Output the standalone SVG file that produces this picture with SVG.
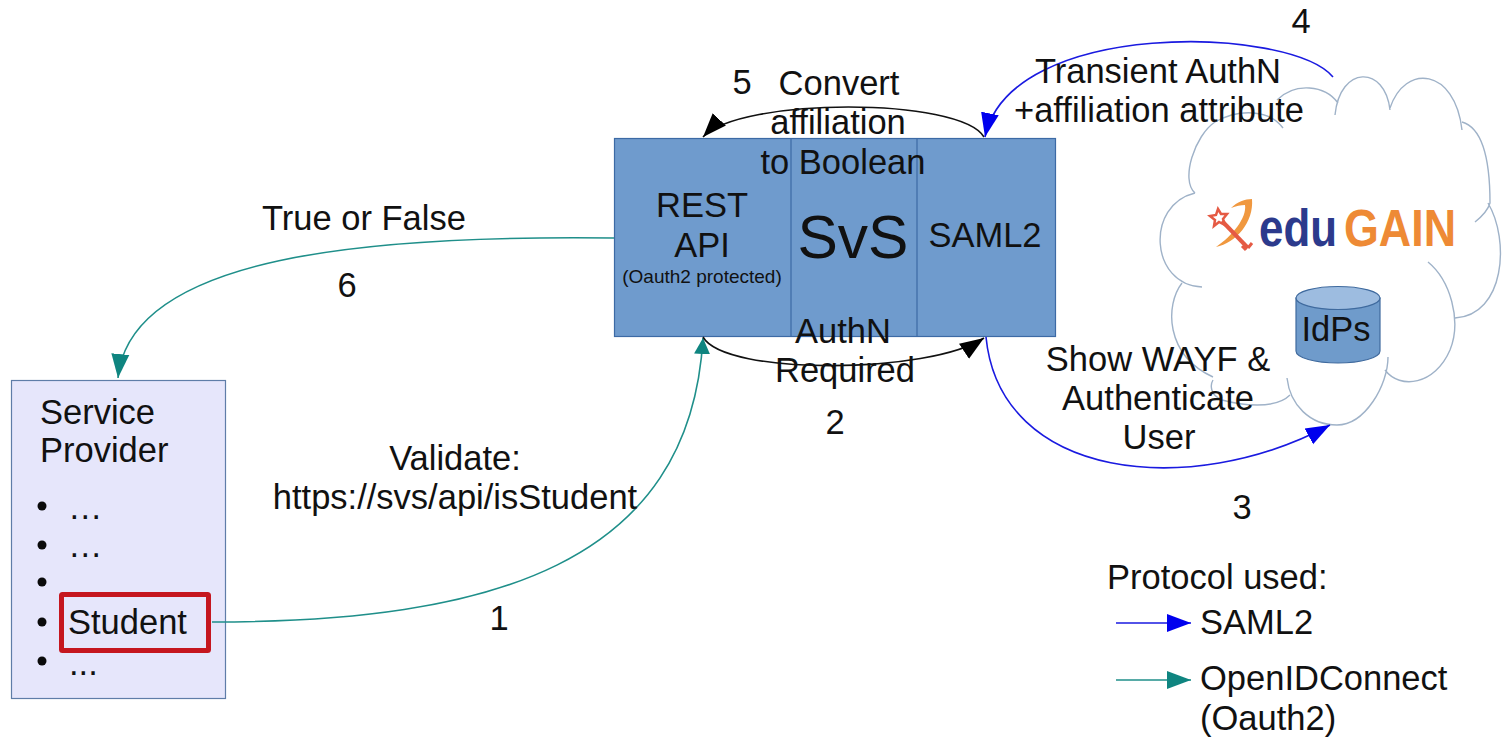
<svg xmlns="http://www.w3.org/2000/svg" width="1503" height="738" viewBox="0 0 1503 738">
<style>
text{font-family:"Liberation Sans",Arial,sans-serif;font-size:34.500px;fill:#111}
.m{text-anchor:middle}
.line{fill:none;stroke-width:1.6}
.teal{stroke:#1f8f8a}.blue{stroke:#1a1ae0}.black{stroke:#111}
.cl{fill:none;stroke:#9fb2c8;stroke-width:1.4}
.bul{fill:#0a0a0a}
.logo{font-family:"Liberation Sans",sans-serif;font-size:51px;font-weight:700}
</style>
<defs>
<marker id="hb" markerUnits="userSpaceOnUse" markerWidth="26" markerHeight="20" refX="24" refY="10" orient="auto"><path d="M0,1 L24,10 L0,19 Z" fill="#0000ee"/></marker>
<marker id="ht" markerUnits="userSpaceOnUse" markerWidth="26" markerHeight="20" refX="24" refY="10" orient="auto"><path d="M0,1 L24,10 L0,19 Z" fill="#0f8580"/></marker>
<marker id="hts" markerUnits="userSpaceOnUse" markerWidth="18" markerHeight="20" refX="16" refY="10" orient="auto"><path d="M0,2 L16,10 L0,18 Z" fill="#0f8580"/></marker>
<marker id="hk" markerUnits="userSpaceOnUse" markerWidth="26" markerHeight="20" refX="24" refY="10" orient="auto"><path d="M0,1 L24,10 L0,19 Z" fill="#000"/></marker>
</defs>
<rect width="1503" height="738" fill="#fff"/>
<g id="cloud">
<path class="cl" d="M1195,193 C1180,180 1195,135 1215,122 C1240,108 1270,110 1283,128 M1277,100 C1295,82 1325,85 1338,103 M1335,115 C1340,65 1385,65 1390,110 M1390,108 C1405,63 1455,68 1462,130 M1462,122 C1490,130 1490,185 1490,203 C1488,210 1480,218 1475,222 M1488,203 C1510,240 1505,315 1455,318 M1428,262 C1450,280 1462,320 1450,350 C1435,385 1400,390 1385,370 M1388,357 C1388,385 1365,425 1337,425 C1310,425 1290,405 1287,378 M1290,395 C1275,410 1240,405 1222,400 C1210,395 1210,385 1213,380 M1213,377 C1165,355 1165,305 1182,283 M1202,287 C1150,285 1145,205 1195,193"/>
</g>
<g id="logo">
<path d="M1231,208 C1237,202 1245,199 1252,199 C1254,222 1236,243 1216,247 C1232,236 1247,218 1245,205 C1241,205 1236,206 1231,208 Z" fill="#f0983f"/>
<path d="M1222,221 L1248,248" stroke="#e55a44" stroke-width="4" fill="none"/>
<path d="M1248,248 L1252,243 M1242,246 L1246,250" stroke="#e55a44" stroke-width="3" fill="none"/>
<path d="M1218,209 L1221,214 L1227,214 L1223,219 L1225,225 L1219,222 L1214,226 L1215,220 L1210,216 L1216,215 Z" fill="none" stroke="#e55a44" stroke-width="2.500"/>
<text class="logo" x="1259" y="245.500" style="fill:#2c3a8c" textLength="78" lengthAdjust="spacingAndGlyphs">edu</text>
<text class="logo" x="1344" y="245.500" style="fill:#ee8a35" textLength="112" lengthAdjust="spacingAndGlyphs">GAIN</text>
</g>
<g id="idps">
<path d="M1296,298 L1296,351 A42,12 0 0 0 1380,351 L1380,298 Z" fill="#6f9bcb" stroke="#3f6a9e" stroke-width="1.2"/>
<ellipse cx="1338" cy="298" rx="42" ry="11.500" fill="#9dbce0" stroke="#3f6a9e" stroke-width="1.2"/>
<text class="m" x="1336" y="341">IdPs</text>
</g>
<g id="svs">
<rect x="614.500" y="138.500" width="441" height="198" fill="#6f9bcd" stroke="#3c6aa5" stroke-width="1.2"/>
<path d="M791,139V336M917,139V336" stroke="#3c6aa5" stroke-width="1.2" fill="none"/>
<text class="m" x="702" y="217">REST</text>
<text class="m" x="702" y="257">API</text>
<text class="m" x="702" y="283" style="font-size:19px">(Oauth2 protected)</text>
<text class="m" x="853" y="258" style="font-size:60.500px">SvS</text>
<text class="m" x="985" y="247">SAML2</text>
</g>
<g id="service-provider">
<rect x="11.500" y="380.500" width="214" height="318" fill="#e6e6fb" stroke="#5f7da8" stroke-width="1.2"/>
<rect x="61.500" y="594.500" width="147" height="56" rx="1" fill="none" stroke="#c5161f" stroke-width="5"/>
<text x="40" y="424">Service</text>
<text x="40" y="462">Provider</text>
<circle class="bul" cx="42" cy="506" r="4.500"/><circle class="bul" cx="42" cy="545" r="4.500"/><circle class="bul" cx="42" cy="582" r="4.500"/><circle class="bul" cx="42" cy="622" r="4.500"/><circle class="bul" cx="42" cy="661" r="4.500"/>
<text x="68" y="519">…</text>
<text x="68" y="557">…</text>
<text x="68" y="634">Student</text>
<text x="69" y="675">...</text>
</g>
<g id="connectors">
<path class="line teal" marker-end="url(#hts)" d="M212,622 C490,622 690,565 703,338"/>
<path class="line teal" marker-end="url(#ht)" d="M614,238 C370,235 130,255 118,378"/>
<path class="line black" marker-end="url(#hk)" d="M984,137 C960,97 740,97 703,137"/>
<path class="line black" marker-end="url(#hk)" d="M703,337 C725,376 930,374 984,338"/>
<path class="line blue" marker-end="url(#hb)" d="M1333,77 C1290,26 1010,18 985,137"/>
<path class="line blue" marker-end="url(#hb)" d="M986,337 C1000,480 1190,500 1330,425"/>
<path class="line blue" marker-end="url(#hb)" d="M1116,623 H1191"/>
<path class="line teal" marker-end="url(#ht)" d="M1116,680 H1191"/>
</g>
<g id="labels">
<text class="m" x="1301" y="33">4</text>
<text class="m" x="742" y="94">5</text>
<text class="m" x="839" y="95">Convert</text>
<text class="m" x="838" y="134">affiliation</text>
<text class="m" x="843" y="174">to Boolean</text>
<text x="262" y="230">True or False</text>
<text class="m" x="347" y="297">6</text>
<text class="m" x="843" y="343">AuthN</text>
<text class="m" x="845" y="382">Required</text>
<text class="m" x="835" y="434">2</text>
<text class="m" x="1158" y="83">Transient AuthN</text>
<text class="m" x="1159" y="122">+affiliation attribute</text>
<text class="m" x="1158" y="371">Show WAYF &amp;</text>
<text class="m" x="1158" y="410">Authenticate</text>
<text class="m" x="1159" y="449">User</text>
<text class="m" x="1242" y="519">3</text>
<text class="m" x="455" y="470">Validate:</text>
<text class="m" x="455" y="509">https://svs/api/isStudent</text>
<text class="m" x="499" y="630">1</text>
<text x="1107" y="589">Protocol used:</text>
<text x="1200" y="634">SAML2</text>
<text x="1200" y="690">OpenIDConnect</text>
<text x="1200" y="730">(Oauth2)</text>
</g>
</svg>
